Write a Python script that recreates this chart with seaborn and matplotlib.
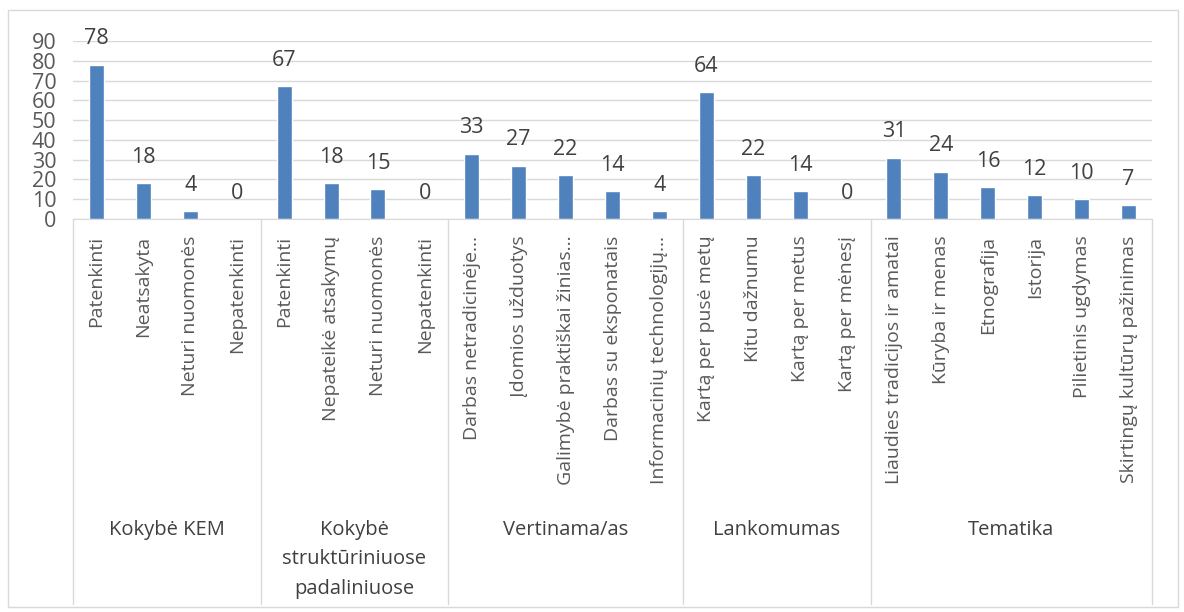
import seaborn as sns
import numpy as np
import matplotlib.pyplot as plt
import matplotlib.transforms as mtransforms
from matplotlib.patches import Rectangle

# groups (outer level of the category axis)
groups = ["Kokybė KEM", "Kokybė\nstruktūriniuose\npadaliniuose", "Vertinama/as", "Lankomumas", "Tematika"]
group_sizes = [4, 4, 5, 4, 6]

# inner categories
labels = [
    "Patenkinti", "Neatsakyta", "Neturi nuomonės", "Nepatenkinti",
    "Patenkinti", "Nepateikė atsakymų", "Neturi nuomonės", "Nepatenkinti",
    "Darbas netradicinėje…", "Įdomios užduotys", "Galimybė praktiškai žinias…",
    "Darbas su eksponatais", "Informacinių technologijų…",
    "Kartą per pusė metų", "Kitu dažnumu", "Kartą per metus", "Kartą per mėnesį",
    "Liaudies tradicijos ir amatai", "Kūryba ir menas", "Etnografija", "Istorija",
    "Pilietinis ugdymas", "Skirtingų kultūrų pažinimas",
]
values = [78, 18, 4, 0, 67, 18, 15, 0, 33, 27, 22, 14, 4, 64, 22, 14, 0, 31, 24, 16, 12, 10, 7]

sns.set_style("white")
plt.rcParams['font.family'] = ['Open Sans', 'DejaVu Sans']

W, H = 1184, 612
fig = plt.figure(figsize=(W / 100, H / 100), dpi=100)

# outer chart border
fig.patches.append(Rectangle((8 / W, 5 / H), 1170 / W, 597 / H, transform=fig.transFigure,
                             fill=False, edgecolor="#d9d9d9", linewidth=1))

x0, x1, y0, y90 = 73, 1152, 219, 41
ax = fig.add_axes([x0 / W, (H - y0) / H, (x1 - x0) / W, (y0 - y90) / H])

idx = np.arange(len(values))
sns.barplot(x=idx, y=values, color="#4f81bd", width=0.32, saturation=1, ax=ax)

ax.set_xlim(-0.5, len(values) - 0.5)
ax.set_ylim(0, 90)
ax.set_yticks(range(0, 91, 10))
ax.tick_params(axis="y", length=0, labelsize=15.5, labelcolor="#595959", pad=12)
ax.grid(axis="y", color="#d9d9d9", linewidth=1)
ax.set_axisbelow(True)
for s in ["top", "right", "left"]:
    ax.spines[s].set_visible(False)
ax.spines["bottom"].set_color("#d9d9d9")
ax.set_xlabel("")
ax.set_ylabel("")

ax.set_xticks(idx)
ax.set_xticklabels(labels, rotation=90, fontsize=14, color="#595959", va="top")
ax.tick_params(axis="x", length=0, pad=12)

# data labels
for i, v in enumerate(values):
    ax.annotate(str(v), (i, v), xytext=(0, 11), textcoords="offset points",
                ha="center", va="bottom", fontsize=15.5, color="#404040")

# group dividers and group names
trans = mtransforms.blended_transform_factory(ax.transData, ax.transAxes)
bottom_frac = (y0 - 604) / (y0 - y90)
label_frac = (y0 - 520) / (y0 - y90)
start = 0
bounds = [-0.5]
for g, n in zip(groups, group_sizes):
    end = start + n
    bounds.append(end - 0.5)
    ax.text((start + end - 1) / 2, label_frac, g, transform=trans, ha="center", va="top",
            fontsize=14.5, color="#404040", linespacing=1.62)
    start = end
for b in bounds:
    ax.plot([b, b], [0, bottom_frac], transform=trans, color="#d9d9d9", linewidth=1, clip_on=False)

fig.savefig("out.png", dpi=100)
